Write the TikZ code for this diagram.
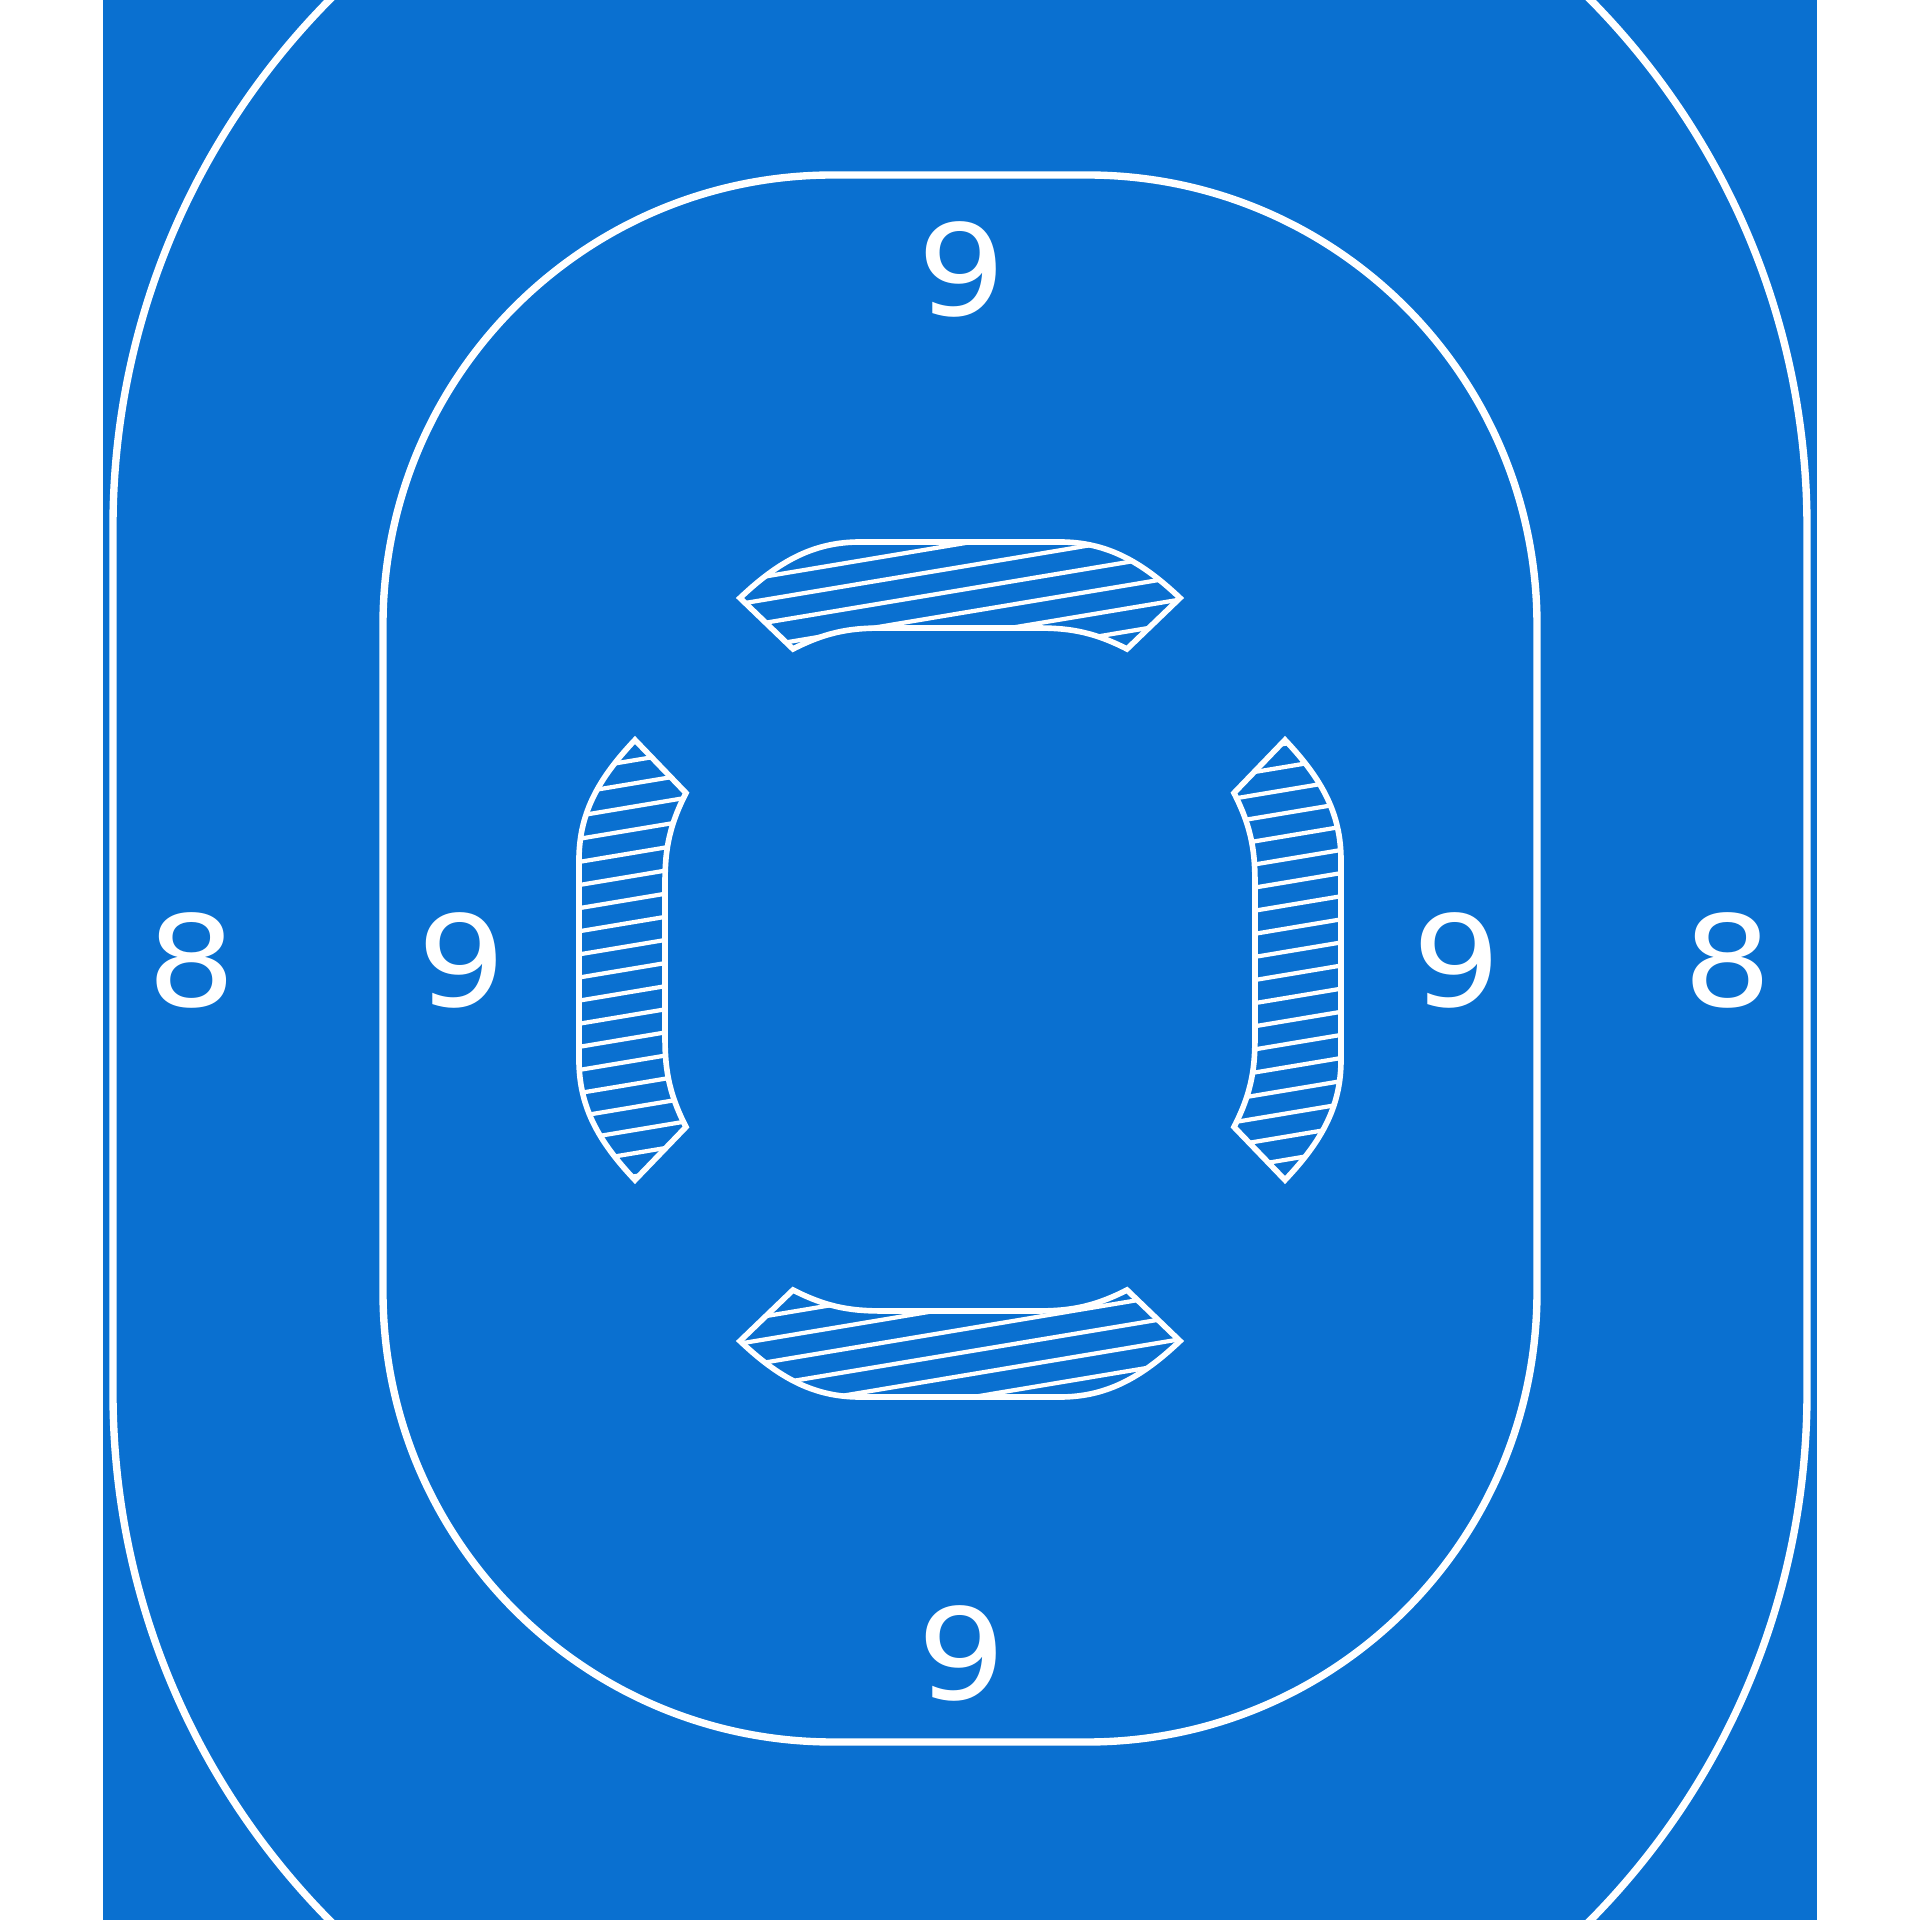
\documentclass[tikz,border=0pt]{standalone}
\usepackage{fontspec}
\usepackage{tikz}
\usetikzlibrary{positioning}
\newfontfamily\numfont{DejaVu Sans}
\tikzset{%
  track/.style={draw=white,line width=2.1pt},
  zone/.style={draw=white,line width=1.6pt,line join=miter},
  hatch/.style={draw=white,line width=1.2pt},
  num/.style={text=white,font=\numfont\fontsize{36}{40}\selectfont,inner sep=0pt,xscale=1.1},
}
\definecolor{rinkblue}{HTML}{0A70D0}
\newcommand{\zonepath}{(-2.2,0) .. controls (-1.8,0.38) and (-1.45,0.56) .. (-1,0.56) -- (1,0.56) .. controls (1.45,0.56) and (1.8,0.38) .. (2.2,0) -- (1.67,-0.51) .. controls (1.3,-0.32) and (1.05,-0.3) .. (0.75,-0.3) -- (-0.75,-0.3) .. controls (-1.05,-0.3) and (-1.3,-0.32) .. (-1.67,-0.51) -- cycle}

\begin{document}
\begin{tikzpicture}
  \useasboundingbox (-9.6,-9.6) rectangle (9.6,9.6);
  \fill[white] (-9.6,-9.6) rectangle (9.6,9.6);
  \fill[rinkblue] (-8.57,-9.6) rectangle (8.57,9.6);

  % outer and inner lines
  \begin{scope}
    \clip (-8.57,-9.6) rectangle (8.57,9.6);
    \draw[track,rounded corners=7.5cm] (-8.47,-11.83) rectangle (8.47,11.83);
  \end{scope}
  \draw[track,rounded corners=4.5cm] (-5.77,-7.82) rectangle (5.77,7.85);

  % hatched zones
  \foreach \sx/\sy/\rot in {0/3.62/0, 0/-3.81/180, -3.25/0/90, 3.25/0/-90} {
    \begin{scope}
      \clip[shift={(\sx,\sy)},rotate=\rot] \zonepath;
      \foreach \k in {-25,...,25}
        \draw[hatch,rotate=9.5] (-12,\k*0.228) -- (12,\k*0.228);
    \end{scope}
    \draw[zone,shift={(\sx,\sy)},rotate=\rot] \zonepath;
  }

  \node[num] (eightL) at (-7.68,0) {8};
  \node[num] (nineL) at (-4.98,0) {9};
  \node[num] (nineR) at (4.97,0) {9};
  \node[num] (eightR) at (7.68,0) {8};
  \node[num] (nineT) at (0.02,6.91) {9};
  \node[num] (nineB) at (0.02,-6.93) {9};
\end{tikzpicture}
\end{document}
